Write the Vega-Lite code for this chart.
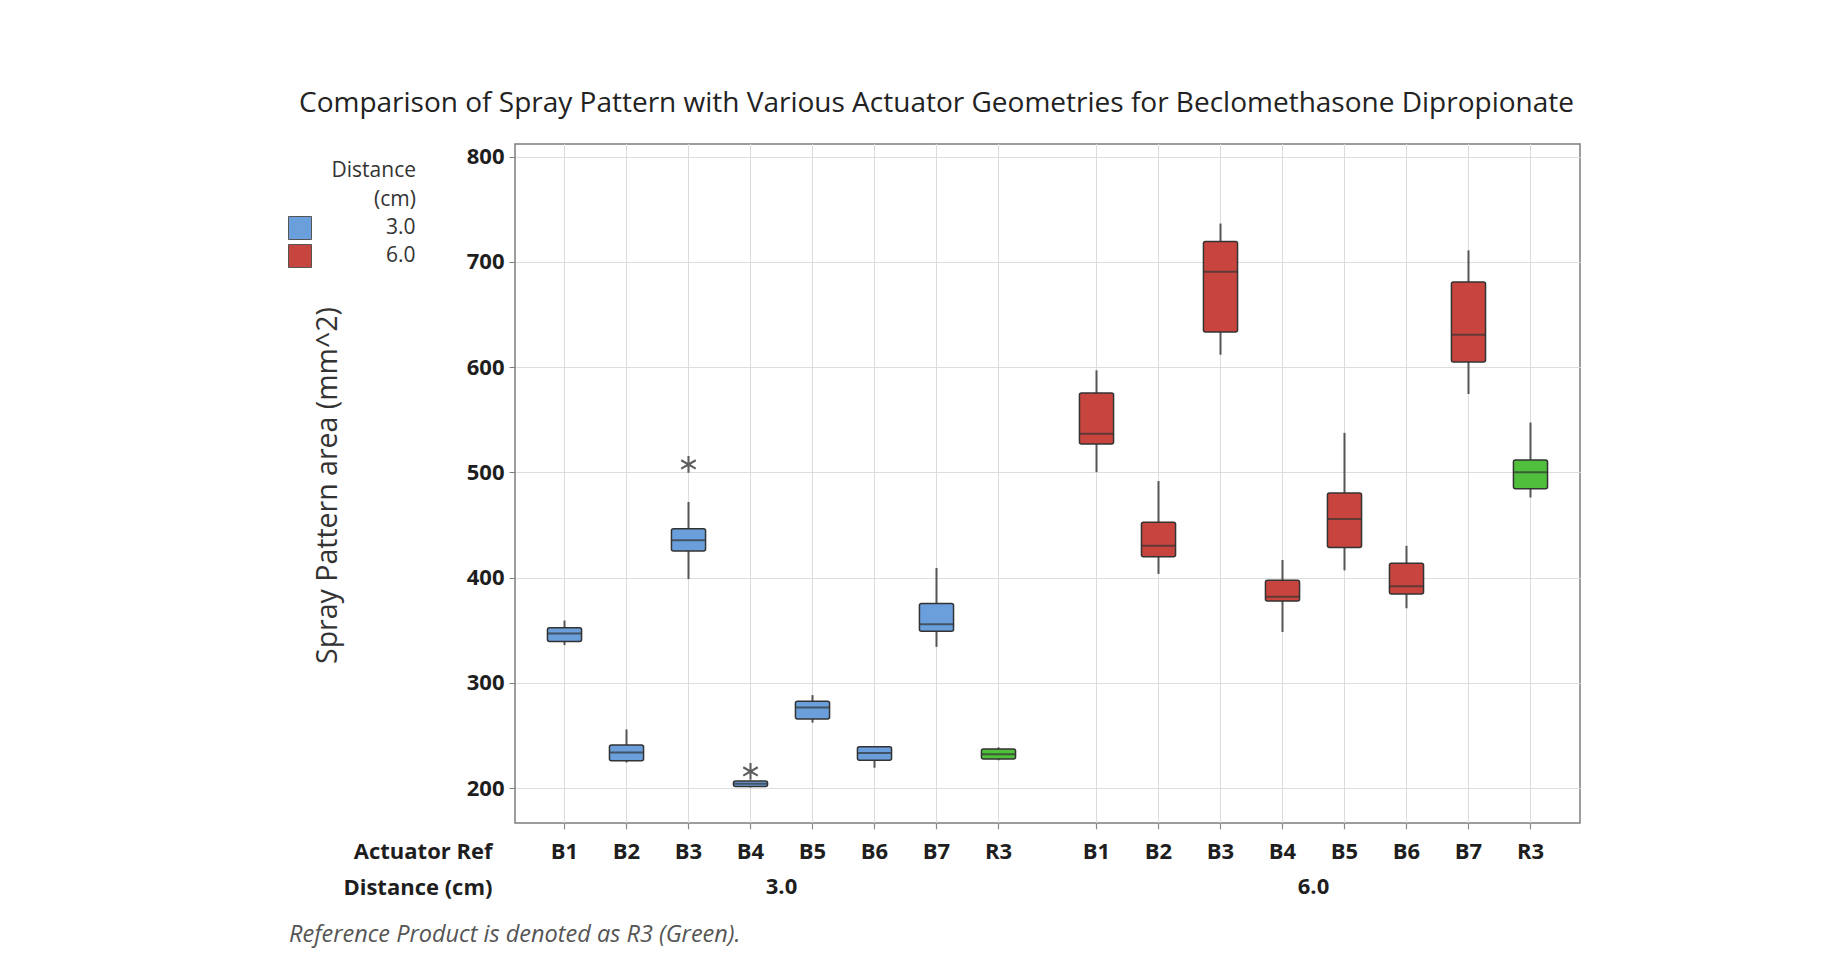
{
  "$schema": "https://vega.github.io/schema/vega-lite/v6.json",
  "autosize": "none",
  "width": 1065,
  "height": 679,
  "padding": {"left": 515, "top": 144, "right": 244, "bottom": 139},
  "background": "white",
  "config": {
    "font": "Open Sans",
    "view": {"stroke": "#7d7d7d", "strokeWidth": 1.5},
    "axis": {"gridColor": "#dedede", "gridWidth": 1}
  },
  "title": {
    "text": "Comparison of Spray Pattern with Various Actuator Geometries for Beclomethasone Dipropionate",
    "fontSize": 28,
    "fontWeight": 500,
    "color": "#222222",
    "anchor": "middle",
    "dx": -111,
    "offset": 26
  },
  "datasets": {
    "boxes": [
      {"Distance": "3.0", "Actuator": "B1", "Group": "3.0", "low": 336, "q1": 339.4, "median": 347, "q3": 352.5, "high": 359.3},
      {"Distance": "3.0", "Actuator": "B2", "Group": "3.0", "low": 224.5, "q1": 226.2, "median": 233.9, "q3": 241, "high": 255.9},
      {"Distance": "3.0", "Actuator": "B3", "Group": "3.0", "low": 398.7, "q1": 425.4, "median": 435.6, "q3": 446.6, "high": 472},
      {"Distance": "3.0", "Actuator": "B4", "Group": "3.0", "low": 200.8, "q1": 201.6, "median": 204.2, "q3": 206.8, "high": 207},
      {"Distance": "3.0", "Actuator": "B5", "Group": "3.0", "low": 262.3, "q1": 265.7, "median": 276.7, "q3": 282.6, "high": 288.5},
      {"Distance": "3.0", "Actuator": "B6", "Group": "3.0", "low": 219.5, "q1": 226.7, "median": 233.4, "q3": 239.4, "high": 239.8},
      {"Distance": "3.0", "Actuator": "B7", "Group": "3.0", "low": 334.3, "q1": 349.1, "median": 355.9, "q3": 375.4, "high": 409.3},
      {"Distance": "3.0", "Actuator": "R3", "Group": "R3", "low": 226.6, "q1": 227.9, "median": 232.2, "q3": 237.2, "high": 238.9},
      {"Distance": "6.0", "Actuator": "B1", "Group": "6.0", "low": 500.3, "q1": 527, "median": 536.8, "q3": 575.4, "high": 597},
      {"Distance": "6.0", "Actuator": "B2", "Group": "6.0", "low": 403.6, "q1": 419.8, "median": 430.3, "q3": 452.8, "high": 491.8},
      {"Distance": "6.0", "Actuator": "B3", "Group": "6.0", "low": 611.8, "q1": 633.4, "median": 690.7, "q3": 719.5, "high": 736.4},
      {"Distance": "6.0", "Actuator": "B4", "Group": "6.0", "low": 348.5, "q1": 377.8, "median": 382, "q3": 397.7, "high": 416.8},
      {"Distance": "6.0", "Actuator": "B5", "Group": "6.0", "low": 407, "q1": 428.7, "median": 455.8, "q3": 480.4, "high": 537.6},
      {"Distance": "6.0", "Actuator": "B6", "Group": "6.0", "low": 371, "q1": 384.6, "median": 391.8, "q3": 413.8, "high": 430.3},
      {"Distance": "6.0", "Actuator": "B7", "Group": "6.0", "low": 574.5, "q1": 605, "median": 630.9, "q3": 680.9, "high": 711},
      {"Distance": "6.0", "Actuator": "R3", "Group": "R3", "low": 476.2, "q1": 484.6, "median": 500.3, "q3": 511.8, "high": 547.4}
    ],
    "outliers": [
      {"Distance": "3.0", "Actuator": "B3", "value": 507.6},
      {"Distance": "3.0", "Actuator": "B4", "value": 216}
    ]
  },
  "resolve": {"axis": {"x": "independent"}},
  "layer": [
    {
      "data": {"name": "boxes"},
      "mark": {"type": "rule", "color": "#dcdcdc", "strokeWidth": 1},
      "encoding": {
        "x": {
          "field": "Distance", "type": "nominal",
          "scale": {"paddingInner": 0.0677, "paddingOuter": 0.0348},
          "axis": {
            "orient": "bottom",
            "title": "Distance (cm)", "titleX": -23, "titleY": 64.6, "titleAlign": "right", "titleBaseline": "middle", "titleAnchor": null,
            "titleFontSize": 22, "titleFontWeight": "bold", "titleColor": "#1e1e1e",
            "labelAngle": 0, "labelFontSize": 22, "labelFontWeight": "bold", "labelColor": "#1e1e1e",
            "labelPadding": 53, "ticks": false, "tickSize": 0, "domain": false, "grid": false
          }
        },
        "xOffset": {"field": "Actuator", "type": "nominal", "scale": {"paddingInner": 0.45, "paddingOuter": 0.225}}
      }
    },
    {
      "data": {"name": "boxes"},
      "mark": {"type": "rule", "color": "#8a8a8a", "strokeWidth": 1.2},
      "encoding": {
        "x": {
          "field": "Distance", "type": "nominal",
          "axis": {
            "orient": "bottom",
            "title": "Actuator Ref", "titleX": -23, "titleY": 28.5, "titleAlign": "right", "titleBaseline": "middle", "titleAnchor": null,
            "titleFontSize": 22, "titleFontWeight": "bold", "titleColor": "#1e1e1e",
            "labels": false, "ticks": false, "tickSize": 0, "domain": false, "grid": false
          }
        },
        "xOffset": {"field": "Actuator", "type": "nominal"},
        "y": {"datum": 167, "type": "quantitative"},
        "y2": {"datum": 161}
      }
    },
    {
      "data": {"name": "boxes"},
      "mark": {"type": "rule", "color": "#555555", "strokeWidth": 2},
      "encoding": {
        "x": {
          "field": "Distance", "type": "nominal",
          "axis": {
            "orient": "bottom",
            "title": "Reference Product is denoted as R3 (Green).", "titleX": -226.5, "titleY": 111, "titleAlign": "left", "titleBaseline": "middle", "titleAnchor": null,
            "titleFontSize": 23.5, "titleFontWeight": "normal", "titleFontStyle": "italic", "titleColor": "#555555",
            "labels": false, "ticks": false, "tickSize": 0, "domain": false, "grid": false
          }
        },
        "xOffset": {"field": "Actuator", "type": "nominal"},
        "y": {
          "field": "low", "type": "quantitative",
          "scale": {"domain": [167, 812], "nice": false, "zero": false},
          "axis": {
            "title": "Spray Pattern area (mm^2)", "titleX": -188, "titleY": 341, "titleAlign": "center", "titleBaseline": "middle", "titleAngle": 270, "titleAnchor": null,
            "titleFontSize": 28.5, "titleFontWeight": "normal", "titleColor": "#333333",
            "values": [200, 300, 400, 500, 600, 700, 800],
            "labelFontSize": 22, "labelFontWeight": "bold", "labelColor": "#1e1e1e", "labelPadding": 5,
            "tickSize": 6, "tickColor": "#7d7d7d", "domain": false, "grid": true
          }
        },
        "y2": {"field": "high"}
      }
    },
    {
      "data": {"name": "boxes"},
      "mark": {"type": "bar", "stroke": "#333333", "strokeWidth": 1.5, "cornerRadius": 2},
      "encoding": {
        "x": {"field": "Distance", "type": "nominal", "axis": null},
        "xOffset": {"field": "Actuator", "type": "nominal"},
        "y": {"field": "q1", "type": "quantitative"},
        "y2": {"field": "q3"},
        "color": {
          "field": "Group", "type": "nominal",
          "scale": {"domain": ["3.0", "6.0", "R3"], "range": ["#6a9fdc", "#c8453f", "#4fbf3c"]},
          "legend": {
            "values": ["3.0", "6.0"],
            "title": ["Distance", "(cm)"],
            "orient": "none", "legendX": -227, "legendY": 16,
            "titleFontSize": 21, "titleFontWeight": "normal", "titleColor": "#333333", "titleAnchor": "end", "titleAlign": "right", "titleLineHeight": 29, "titlePadding": 6,
            "labelFontSize": 21, "labelColor": "#333333", "labelOffset": 74,
            "symbolType": "square", "symbolSize": 529, "symbolStrokeColor": "#555555", "symbolStrokeWidth": 1, "symbolOpacity": 1,
            "rowPadding": 0
          }
        }
      }
    },
    {
      "data": {"name": "boxes"},
      "mark": {"type": "tick", "color": "#333333", "thickness": 2, "size": 34},
      "encoding": {
        "x": {"field": "Distance", "type": "nominal", "axis": null},
        "xOffset": {"field": "Actuator", "type": "nominal"},
        "y": {"field": "median", "type": "quantitative"}
      }
    },
    {
      "data": {"name": "outliers"},
      "mark": {"type": "point", "shape": "M0,-1L0,1M-0.87,-0.5L0.87,0.5M-0.87,0.5L0.87,-0.5", "size": 280, "stroke": "#5e5e5e", "strokeWidth": 2.1, "filled": false, "opacity": 1},
      "encoding": {
        "x": {"field": "Distance", "type": "nominal", "axis": null},
        "xOffset": {"field": "Actuator", "type": "nominal"},
        "y": {"field": "value", "type": "quantitative"}
      }
    },
    {
      "data": {"name": "boxes"},
      "mark": {"type": "text", "fontSize": 22, "fontWeight": "bold", "color": "#1e1e1e", "baseline": "middle", "align": "center", "dy": 28.5},
      "encoding": {
        "x": {"field": "Distance", "type": "nominal", "axis": null},
        "xOffset": {"field": "Actuator", "type": "nominal"},
        "y": {"datum": 167, "type": "quantitative"},
        "text": {"field": "Actuator"}
      }
    }
  ]
}
